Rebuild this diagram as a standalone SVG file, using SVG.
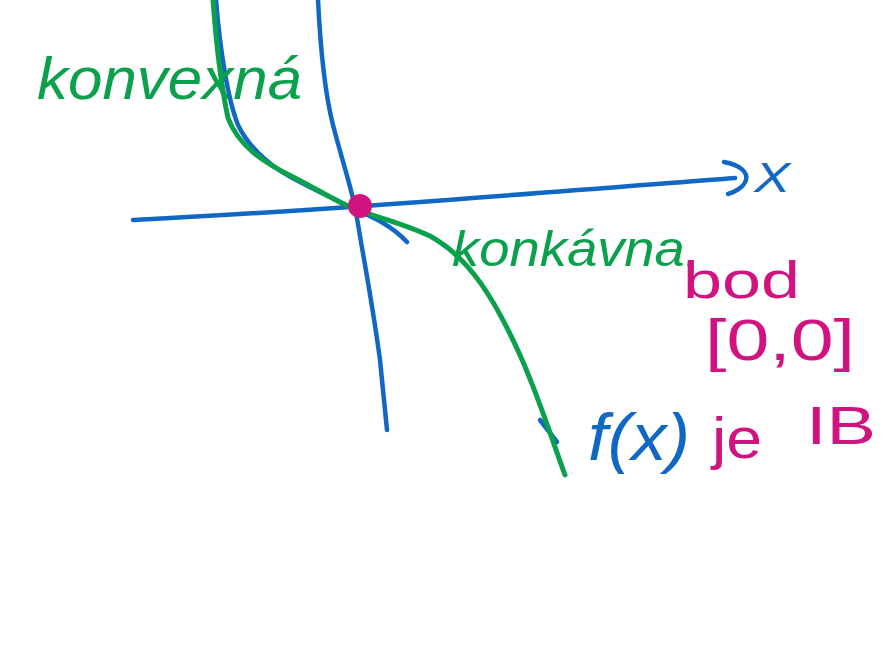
<svg xmlns="http://www.w3.org/2000/svg" width="883" height="666" viewBox="0 0 883 666">
<style>
.b{fill:none;stroke:#1068c4;stroke-width:4.5;stroke-linecap:round;stroke-linejoin:round}
.g{fill:none;stroke:#0aa04c;stroke-width:5;stroke-linecap:round;stroke-linejoin:round}
.tg{fill:#0aa04c;font-family:"Liberation Sans",Arial,sans-serif;font-style:italic}
.tb{fill:#1068c4;font-family:"Liberation Sans",Arial,sans-serif;font-style:italic}
.tp{fill:#d0137f;font-family:"Liberation Sans",Arial,sans-serif}
</style>
<rect width="883" height="666" fill="#ffffff"/>
<g id="axes">
  <path class="b" d="M133,220 C300,212 500,196 735,178"/>
  <path class="b" d="M724,162 C740,165 748,172 746,180 C744,187 735,192 728,194"/>
  <path class="b" d="M318,0 C320,40 324,90 333,125 C342,160 352,190 356,212 C362,250 372,300 380,360 C384,400 386,420 387,430"/>
</g>
<g id="function">
  <path class="b" d="M216,0 C220,50 228,100 238,125 C250,150 275,170 300,182 C325,195 345,204 356,210 C375,218 392,226 407,242"/>
  <path class="b" d="M540,420 L557,442"/>
  <path class="g" d="M213,0 C216,40 222,90 228,118 C238,145 262,162 295,178 C318,190 338,202 352,208 C372,216 400,222 430,236 C470,258 495,300 520,355 C540,400 552,440 565,475"/>
</g>
<g id="point">
  <circle cx="360" cy="206" r="12" fill="#d0137f"/>
</g>
<g id="labels">
  <text class="tb" x="754" y="192" font-size="42" textLength="36" lengthAdjust="spacingAndGlyphs">X</text>
  <text class="tg" x="37" y="99" font-size="60" textLength="265" lengthAdjust="spacingAndGlyphs">konvexná</text>
  <text class="tg" x="452" y="266" font-size="50" textLength="248" lengthAdjust="spacingAndGlyphs">konkávna.</text>
  <text class="tp" x="683" y="298" font-size="52" textLength="117" lengthAdjust="spacingAndGlyphs">bod</text>
  <text class="tp" x="705" y="360" font-size="58" textLength="150" lengthAdjust="spacingAndGlyphs">[0,0]</text>
  <text class="tb" x="588" y="460" font-size="66" textLength="102" lengthAdjust="spacingAndGlyphs">f(x)</text>
  <text class="tp" x="712" y="458" font-size="58" textLength="50" lengthAdjust="spacingAndGlyphs">je</text>
  <text class="tp" x="806" y="444" font-size="54" textLength="70" lengthAdjust="spacingAndGlyphs">IB</text>
</g>
</svg>
